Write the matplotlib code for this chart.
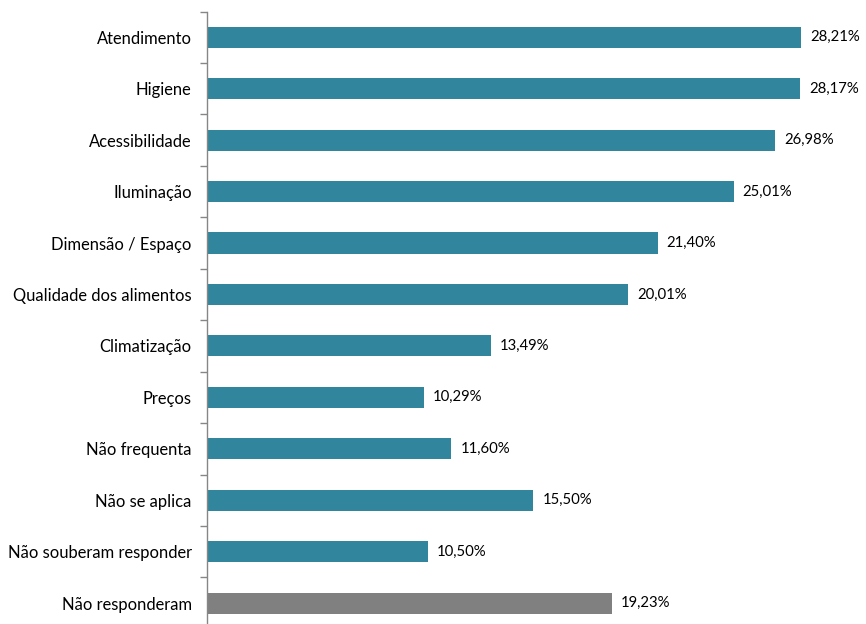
import matplotlib
matplotlib.use("Agg")
import matplotlib.pyplot as plt
import numpy as np

categories = ["Atendimento", "Higiene", "Acessibilidade", "Iluminação", "Dimensão / Espaço",
              "Qualidade dos alimentos", "Climatização", "Preços", "Não frequenta",
              "Não se aplica", "Não souberam responder", "Não responderam"]
values = [28.21, 28.17, 26.98, 25.01, 21.40, 20.01, 13.49, 10.29, 11.60, 15.50, 10.50, 19.23]
value_labels = ["28,21%", "28,17%", "26,98%", "25,01%", "21,40%", "20,01%", "13,49%",
                "10,29%", "11,60%", "15,50%", "10,50%", "19,23%"]

plt.rcParams['font.family'] = ['Lato', 'DejaVu Sans']

W, H = 866, 624
fig = plt.figure(figsize=(W/100, H/100), dpi=100)
n = len(categories)
spacing = 51.45
top_px = 11.5
bottom_px = top_px + spacing * n
ax = fig.add_axes([207/W, (H - bottom_px)/H, (W-207)/W, (bottom_px - top_px)/H])

colors = ["#31859C"] * (n - 1) + ["#808080"]
y = np.arange(n)
ax.barh(y, values, height=0.41, color=colors)
ax.set_ylim(n - 0.5, -0.5)
ax.set_xlim(0, (W - 207) / 21.06)

for yi, v, lab in zip(y, values, value_labels):
    ax.annotate(lab, (v, yi), xytext=(9, 0), textcoords="offset pixels",
                va="center", ha="left", fontsize=10.7, color="#000000")

ax.set_yticks(y)
ax.set_yticklabels(categories, fontsize=11.9)
ax.tick_params(axis="y", which="major", length=0, pad=11)
ax.set_yticks(np.arange(-0.5, n + 0.5, 1), minor=True)
ax.tick_params(axis="y", which="minor", length=5, width=1, color="#868686", direction="out")
ax.set_xticks([])
for s in ["top", "right", "bottom"]:
    ax.spines[s].set_visible(False)
ax.spines["left"].set_color("#868686")
ax.spines["left"].set_linewidth(1)

fig.savefig("out.png", dpi=100)
